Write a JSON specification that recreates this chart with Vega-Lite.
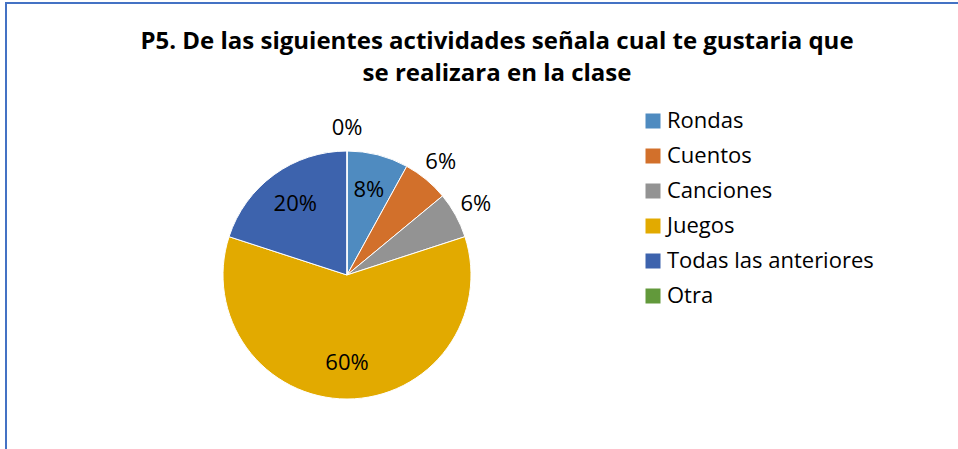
{
  "$schema": "https://vega.github.io/schema/vega-lite/v6.json",
  "width": 960,
  "height": 460,
  "autosize": "none",
  "padding": {"left": 6, "top": 3, "right": 0, "bottom": 0},
  "background": "white",
  "view": {"stroke": "#4472C4", "strokeWidth": 2},
  "config": {
    "view": {"stroke": "#4472C4", "strokeWidth": 2},
    "font": "Open Sans"
  },
  "title": {
    "text": ["P5. De las siguientes actividades señala cual te gustaria que", "se realizara en la clase"],
    "anchor": "start",
    "align": "center",
    "dx": 491,
    "dy": 87,
    "font": "Open Sans",
    "fontSize": 24,
    "fontWeight": "bold",
    "lineHeight": 32,
    "color": "#000000"
  },
  "data": {
    "values": [
      {"actividad": "Rondas", "valor": 4, "orden": 1},
      {"actividad": "Cuentos", "valor": 3, "orden": 2},
      {"actividad": "Canciones", "valor": 3, "orden": 3},
      {"actividad": "Juegos", "valor": 30, "orden": 4},
      {"actividad": "Todas las anteriores", "valor": 10, "orden": 5},
      {"actividad": "Otra", "valor": 0, "orden": 6}
    ]
  },
  "transform": [
    {"joinaggregate": [{"op": "sum", "field": "valor", "as": "total"}]},
    {"calculate": "datum.valor / datum.total", "as": "pct"},
    {"stack": "valor", "sort": [{"field": "orden"}], "groupby": [], "as": ["v0", "v1"]},
    {"calculate": "(datum.v0 + datum.v1) / 2", "as": "medio"}
  ],
  "layer": [
    {
      "mark": {"type": "arc", "x": 341, "y": 272, "outerRadius": 124, "stroke": "white", "strokeWidth": 1},
      "encoding": {
        "theta": {"field": "v0", "type": "quantitative", "scale": {"domain": [0, 50]}},
        "theta2": {"field": "v1"},
        "color": {
          "field": "actividad",
          "type": "nominal",
          "scale": {
            "domain": ["Rondas", "Cuentos", "Canciones", "Juegos", "Todas las anteriores", "Otra"],
            "range": ["#4F8BC0", "#D2702B", "#939393", "#E2AA00", "#3D63AD", "#62993B"]
          },
          "legend": {
            "title": null,
            "orient": "none",
            "legendX": 636,
            "legendY": 107,
            "symbolType": "square",
            "symbolSize": 225,
            "symbolStrokeWidth": 0,
            "symbolOpacity": 1,
            "labelFont": "Open Sans",
            "labelFontSize": 22,
            "labelColor": "#000000",
            "labelOffset": 3,
            "labelLimit": 400,
            "rowPadding": 13,
            "padding": 0
          }
        }
      }
    },
    {
      "transform": [{"filter": "datum.pct >= 0.08"}],
      "mark": {"type": "text", "x": 341, "y": 272, "radius": 88, "fontSize": 22, "font": "Open Sans", "color": "#000000"},
      "encoding": {
        "theta": {"field": "medio", "type": "quantitative", "scale": {"domain": [0, 50]}},
        "text": {"field": "pct", "type": "quantitative", "format": ".0%"}
      }
    },
    {
      "transform": [{"filter": "datum.pct < 0.08"}],
      "mark": {"type": "text", "x": 341, "y": 272, "radius": 147, "fontSize": 22, "font": "Open Sans", "color": "#000000"},
      "encoding": {
        "theta": {"field": "medio", "type": "quantitative", "scale": {"domain": [0, 50]}},
        "text": {"field": "pct", "type": "quantitative", "format": ".0%"}
      }
    }
  ]
}
